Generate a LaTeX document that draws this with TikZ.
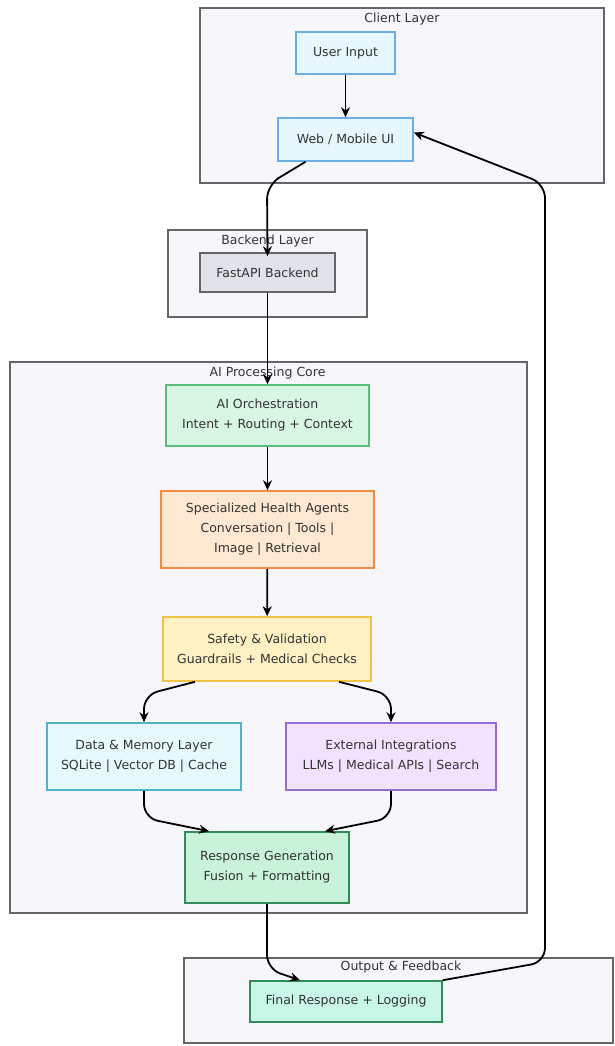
\documentclass[tikz,border=0pt]{standalone}
\usepackage{fontspec}
\setmainfont{DejaVu Sans}
\usetikzlibrary{arrows.meta}
\definecolor{clfill}{HTML}{F7F7FB}
\definecolor{clline}{HTML}{666666}
\definecolor{txt}{HTML}{333333}
\begin{document}
\begin{tikzpicture}[x=1pt,y=-1pt,
  every node/.style={font=\fontsize{12.5}{20}\selectfont, text=txt, align=center, inner sep=0pt},
  cluster/.style={draw=clline, line width=1.6pt, fill=clfill, rectangle},
  proc/.style={draw, line width=1.6pt, rectangle},
  ctitle/.style={font=\fontsize{12.5}{14}\selectfont},
  link/.style={draw=black, line width=1.8pt, rounded corners=14pt, -{Stealth[length=10pt,width=9pt]}}
]
\useasboundingbox (0,0) rectangle (614,1046);
\fill[white] (0,0) rectangle (614,1046);
% clusters
\node[cluster, minimum width=404pt, minimum height=175pt] (client) at (402,95.5) {};
\node[cluster, minimum width=199pt, minimum height=87pt] (backend) at (267.5,273.5) {};
\node[cluster, minimum width=517pt, minimum height=551pt] (core) at (268.5,637.5) {};
\node[cluster, minimum width=429pt, minimum height=85pt] (output) at (398.5,1000.5) {};
\node[ctitle] (tclient) at (402,19) {Client Layer};
\node[ctitle] (tbackend) at (267.5,241) {Backend Layer};
\node[ctitle] (tcore) at (267.5,373) {AI Processing Core};
\node[ctitle] (toutput) at (401,967) {Output \& Feedback};
% nodes
\node[proc, draw=cyan!70!blue!60, fill=cyan!10, minimum width=99pt, minimum height=42pt] (user) at (345.5,53) {User Input};
\node[proc, draw=cyan!70!blue!60, fill=cyan!10, minimum width=135pt, minimum height=43pt] (web) at (345.5,139.5) {Web / Mobile UI};
\node[proc, draw=clline, fill={rgb,255:red,225;green,227;blue,234}, minimum width=135pt, minimum height=39pt] (api) at (267.5,272.5) {FastAPI Backend};
\node[proc, draw={rgb,255:red,90;green,190;blue,120}, fill={rgb,255:red,216;green,246;blue,228}, minimum width=203pt, minimum height=61pt] (orch) at (267.5,415.5) {AI Orchestration\\Intent + Routing + Context};
\node[proc, draw={rgb,255:red,240;green,140;blue,70}, fill={rgb,255:red,255;green,232;blue,210}, minimum width=213pt, minimum height=77pt] (agents) at (267.5,529.5) {Specialized Health Agents\\Conversation | Tools |\\Image | Retrieval};
\node[proc, draw={rgb,255:red,240;green,195;blue,70}, fill={rgb,255:red,255;green,241;blue,196}, minimum width=208pt, minimum height=64pt] (safety) at (267,649) {Safety \& Validation\\Guardrails + Medical Checks};
\node[proc, draw={rgb,255:red,80;green,180;blue,200}, fill={rgb,255:red,230;green,250;blue,254}, minimum width=194pt, minimum height=67pt] (data) at (144,756.5) {Data \& Memory Layer\\SQLite | Vector DB | Cache};
\node[proc, draw={rgb,255:red,150;green,110;blue,210}, fill={rgb,255:red,242;green,226;blue,255}, minimum width=210pt, minimum height=67pt] (ext) at (391,756.5) {External Integrations\\LLMs | Medical APIs | Search};
\node[proc, draw={rgb,255:red,50;green,140;blue,90}, fill={rgb,255:red,200;green,242;blue,218}, minimum width=164pt, minimum height=71pt] (resp) at (267,867.5) {Response Generation\\Fusion + Formatting};
\node[proc, draw={rgb,255:red,50;green,140;blue,90}, fill={rgb,255:red,200;green,247;blue,232}, minimum width=192pt, minimum height=41pt] (final) at (346,1001.5) {Final Response + Logging};
% helper coordinates
\coordinate (c1) at (267,185);
\coordinate (c2) at (545,962);
\coordinate (c3) at (545,184);
\coordinate (c4) at (267,969);
% connectors
\draw[link] (user) -- (web);
\draw[link] ([xshift=-40pt]web.south) -- (c1) -- ([yshift=-4pt]api.north);
\draw[link] (api) -- (orch);
\draw[link] (orch) -- (agents);
\draw[link] (agents) -- (safety);
\draw[link] ([xshift=-72pt]safety.south) -- (144,695) -- (data.north);
\draw[link] ([xshift=72pt]safety.south) -- (391,695) -- (ext.north);
\draw[link] (data.south) -- (144,818) -- ([xshift=-58pt]resp.north);
\draw[link] (ext.south) -- (391,818) -- ([xshift=58pt]resp.north);
\draw[link] (resp.south) -- (c4) -- ([xshift=-46pt]final.north);
\draw[link] (final.north east) -- (c2) -- (c3) -- ([yshift=7pt]web.east);
\end{tikzpicture}
\end{document}
